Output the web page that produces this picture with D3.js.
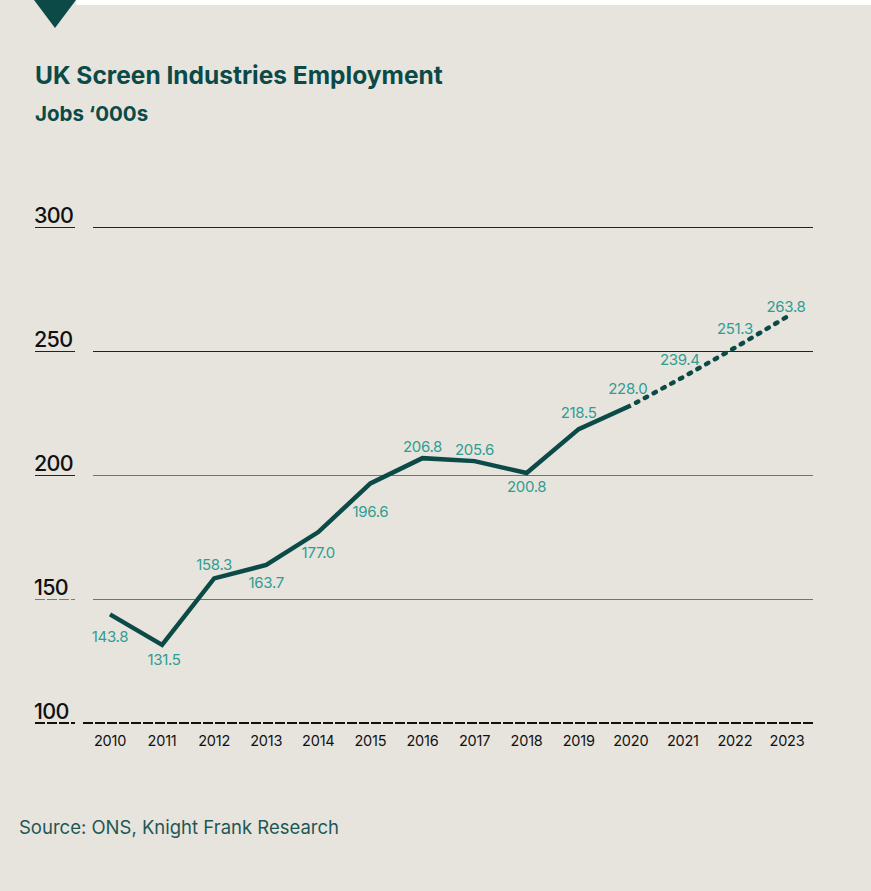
<!DOCTYPE html>
<html>
<head>
<meta charset="utf-8">
<script src="https://cdn.jsdelivr.net/npm/d3@7"></script>
<style>
  html, body { margin: 0; padding: 0; background: #e7e4de; }
  svg { display: block; }
  text { font-family: Inter, "Noto Sans", sans-serif; }
</style>
</head>
<body>
<div id="chart"></div>
<script>
// chart data
const years = [2010, 2011, 2012, 2013, 2014, 2015, 2016, 2017, 2018, 2019, 2020, 2021, 2022, 2023];
const jobs = [143.8, 131.5, 158.3, 163.7, 177.0, 196.6, 206.8, 205.6, 200.8, 218.5, 228.0, 239.4, 251.3, 263.8];
const forecastFrom = 2020;
const yTicks = [100, 150, 200, 250, 300];
// where each value label sits relative to its point: [dx, dy]
const labelPos = [[0, 28], [2, 20], [0, -8], [0, 23], [0, 26], [0, 34], [0, -6], [0, -6], [0, 19], [0, -11], [-3, -12], [-3, -12], [0, -14], [-1, -5]];

const W = 871, H = 891;
const teal = '#0b4a47', labelTeal = '#2f9d92';

const svg = d3.select('#chart').append('svg')
    .attr('width', W)
    .attr('height', H);

svg.append('rect').attr('width', W).attr('height', H).attr('fill', '#e7e4de');
// white strip along the top and the marker triangle
svg.append('rect').attr('x', 76).attr('y', 0).attr('width', W - 76).attr('height', 5).attr('fill', '#fff');
svg.append('path').attr('d', 'M34,0 L76,0 L55,28 Z').attr('fill', teal);

svg.append('text')
    .attr('x', 35).attr('y', 84)
    .attr('fill', teal).attr('font-size', 24.5).attr('font-weight', 700)
    .text('UK Screen Industries Employment');

svg.append('text')
    .attr('x', 35).attr('y', 121)
    .attr('fill', teal).attr('font-size', 20.5).attr('font-weight', 700)
    .text('Jobs \u2018000s');

const x = d3.scalePoint().domain(years).range([110, 787]);
const y = d3.scaleLinear().domain([100, 300]).range([723, 227]);

// gridlines with short segments under the tick labels
const grid = svg.append('g').attr('shape-rendering', 'crispEdges');
yTicks.forEach(t => {
    const isBase = t === 100;
    const col = t >= 250 ? '#222' : '#75716d';
    const yy = isBase ? y(t) : Math.round(y(t)) + 0.5;
    grid.append('line')
        .attr('x1', isBase ? 83 : 93).attr('x2', 813)
        .attr('y1', yy).attr('y2', yy)
        .attr('stroke', isBase ? '#111' : col)
        .attr('stroke-width', isBase ? 2.5 : 1)
        .attr('stroke-dasharray', isBase ? '10,2' : null);
    grid.append('line')
        .attr('x1', 35).attr('x2', 75)
        .attr('y1', yy).attr('y2', yy)
        .attr('stroke', t === 150 ? labelTeal : (isBase ? '#111' : '#222'))
        .attr('stroke-width', isBase ? 2.5 : 1)
        .attr('stroke-dasharray', isBase || t === 150 ? '10,2' : null);
    svg.append('text')
        .attr('x', 34).attr('y', y(t) - 4)
        .attr('fill', '#111').attr('font-size', 21.5).attr('font-weight', 500)
        .attr('letter-spacing', -0.7)
        .text(t);
});

// x axis labels
svg.append('g').selectAll('text')
    .data(years)
    .join('text')
    .attr('x', d => x(d))
    .attr('y', 746)
    .attr('text-anchor', 'middle')
    .attr('fill', '#111').attr('font-size', 14.5)
    .attr('letter-spacing', -0.2)
    .text(d => d);

const pts = years.map((yr, i) => ({ yr, v: jobs[i], i }));
const line = d3.line().x(d => x(d.yr)).y(d => y(d.v));

svg.append('path')
    .datum(pts.filter(d => d.yr <= forecastFrom))
    .attr('d', line)
    .attr('fill', 'none')
    .attr('stroke', teal).attr('stroke-width', 4.5)
    .attr('stroke-linejoin', 'miter');

svg.append('path')
    .datum(pts.filter(d => d.yr >= forecastFrom))
    .attr('d', line)
    .attr('fill', 'none')
    .attr('stroke', teal).attr('stroke-width', 4.5)
    .attr('stroke-linecap', 'round')
    .attr('stroke-dasharray', '2.5,7.5')
    .attr('stroke-dashoffset', -6);

svg.append('g').selectAll('text')
    .data(pts)
    .join('text')
    .attr('x', d => x(d.yr) + labelPos[d.i][0])
    .attr('y', d => y(d.v) + labelPos[d.i][1])
    .attr('text-anchor', 'middle')
    .attr('fill', labelTeal).attr('font-size', 15)
    .attr('letter-spacing', -0.3)
    .text(d => d.v.toFixed(1));

svg.append('text')
    .attr('x', 19).attr('y', 834)
    .attr('fill', '#1f5754').attr('font-size', 18.5)
    .text('Source: ONS, Knight Frank Research');
</script>
</body>
</html>
